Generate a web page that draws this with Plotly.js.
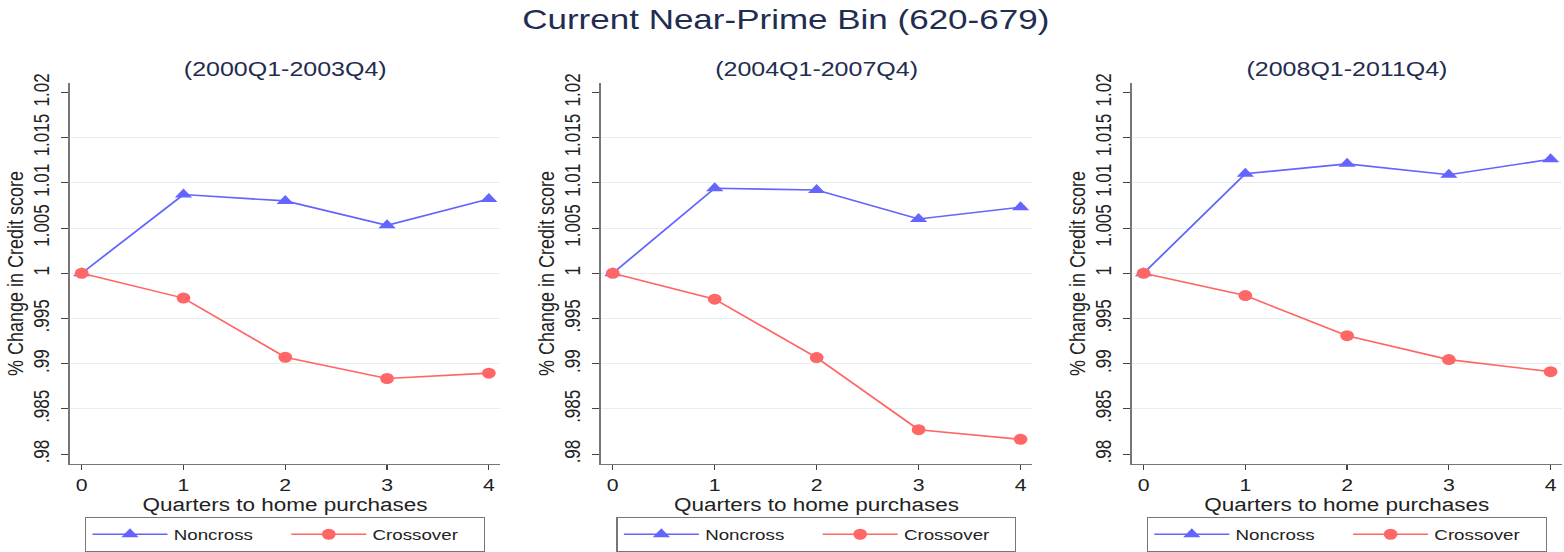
<!DOCTYPE html>
<html>
<head>
<meta charset="utf-8">
<script src="https://cdn.plot.ly/plotly-3.0.1.min.js"></script>
<style>
  html, body { margin: 0; padding: 0; background: #ffffff; }
  #wrap { width: 1564px; height: 552px; overflow: hidden; }
  #plot { width: 1251px; height: 552px; transform: scaleX(1.2502); transform-origin: 0 0; }
</style>
</head>
<body>
<div id="wrap"><div id="plot"></div></div>
<script>
// ---- data ----
var quarters = [0, 1, 2, 3, 4];
var periodTitles = ["(2000Q1-2003Q4)", "(2004Q1-2007Q4)", "(2008Q1-2011Q4)"];
var noncross2000  = [1, 1.0087, 1.0080, 1.0053, 1.0082];
var crossover2000 = [1, 0.99725, 0.99071, 0.98836, 0.98895];
var noncross2004  = [1, 1.0094, 1.0092, 1.0060, 1.0073];
var crossover2004 = [1, 0.99713, 0.99067, 0.98270, 0.98163];
var noncross2008  = [1, 1.0110, 1.0121, 1.0109, 1.0126];
var crossover2008 = [1, 0.99753, 0.99309, 0.99045, 0.98912];
var yTickVals = [0.98, 0.985, 0.99, 0.995, 1, 1.005, 1.01, 1.015, 1.02];
var yTickText = [".98", ".985", ".99", ".995", "1", "1.005", "1.01", "1.015", "1.02"];
var yGridVals = [0.985, 0.99, 0.995, 1, 1.005, 1.01, 1.015];
var xTickVals = [0, 1, 2, 3, 4];
var seriesNames = ["Noncross", "Crossover"];

// ---- style ----
var FONT = "Liberation Sans, Arial, Helvetica, sans-serif";
var BLUE = "#6464ff";
var RED = "#ff6666";
var NAVY = "#1f2d50";
var xDomains = [[0.04476, 0.3197], [0.3843, 0.6597], [0.7237, 0.9986]];
var yDomain = [0.1563, 0.8491];

var nonSets = [noncross2000, noncross2004, noncross2008];
var crossSets = [crossover2000, crossover2004, crossover2008];

var traces = [];
for (var i = 0; i < 3; i++) {
  var sfx = i === 0 ? "" : String(i + 1);
  traces.push({
    x: quarters, y: nonSets[i], type: "scatter", mode: "lines+markers",
    name: seriesNames[0], xaxis: "x" + sfx, yaxis: "y" + sfx,
    legend: "legend" + sfx,
    line: { color: BLUE, width: 1.6 },
    marker: { symbol: "triangle-up", size: 12, color: BLUE }
  });
  traces.push({
    x: quarters, y: crossSets[i], type: "scatter", mode: "lines+markers",
    name: seriesNames[1], xaxis: "x" + sfx, yaxis: "y" + sfx,
    legend: "legend" + sfx,
    line: { color: RED, width: 1.6 },
    marker: { symbol: "circle", size: 11, color: RED }
  });
}

var layout = {
  width: 1251, height: 552,
  margin: { l: 0, r: 0, t: 0, b: 0 },
  paper_bgcolor: "#ffffff", plot_bgcolor: "#ffffff",
  font: { family: FONT, color: "#222222", size: 15 },
  showlegend: true,
  title: {
    text: "Current Near-Prime Bin (620-679)",
    x: 0.5024, xanchor: "center", y: 1 - 19 / 552, yanchor: "middle",
    font: { family: FONT, size: 28, color: NAVY }
  },
  annotations: [],
  hovermode: false
};

for (var j = 0; j < 3; j++) {
  var s = j === 0 ? "" : String(j + 1);
  var center = (xDomains[j][0] + xDomains[j][1]) / 2;
  layout["xaxis" + s] = {
    domain: xDomains[j], anchor: "y" + s,
    range: [-0.115, 4.11], tickmode: "array", tickvals: xTickVals,
    ticks: "outside", ticklen: 5, tickwidth: 1, tickcolor: "#444",
    showline: true, linecolor: "#777", linewidth: 1.3,
    showgrid: false, zeroline: false,
    tickfont: { family: FONT, size: 17, color: "#222" },
    title: { text: "Quarters to home purchases", standoff: 2,
             font: { family: FONT, size: 18, color: "#222" } }
  };
  layout["yaxis" + s] = {
    domain: yDomain, anchor: "x" + s,
    range: [0.9789, 1.02104], tickmode: "array", tickvals: yTickVals, ticktext: yTickText,
    tickangle: -90,
    ticks: "outside", ticklen: 6, tickwidth: 1, tickcolor: "#444",
    ticklabelstandoff: 3,
    showline: true, linecolor: "#777", linewidth: 1.3,
    showgrid: false, zeroline: false,
    minor: { tickmode: "array", tickvals: yGridVals, ticks: "", showgrid: true,
             gridcolor: "#e6eef0", gridwidth: 1 },
    tickfont: { family: FONT, size: 17, color: "#222" },
    title: { text: "% Change in Credit score", standoff: 0,
             font: { family: FONT, size: 18, color: "#222" } }
  };
  layout["legend" + s] = {
    x: center, xanchor: "center", y: 1 - 536.7 / 552, yanchor: "middle",
    orientation: "h", bordercolor: "#777", borderwidth: 1,
    bgcolor: "#ffffff", itemwidth: 60, entrywidth: 84,
    font: { family: FONT, size: 15, color: "#222" }
  };
  layout.annotations.push({
    text: periodTitles[j], xref: "paper", yref: "paper",
    x: center, xanchor: "center", y: 1 - 69 / 552, yanchor: "middle",
    showarrow: false, font: { family: FONT, size: 20, color: NAVY }
  });
}

Plotly.newPlot("plot", traces, layout, { displayModeBar: false, staticPlot: true });
</script>
</body>
</html>
